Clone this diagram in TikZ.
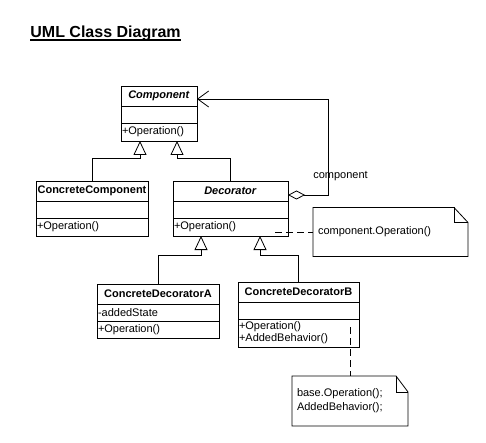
\documentclass[tikz,border=0pt]{standalone}
\usepackage{fontspec}
\setmainfont{Liberation Sans}
\usetikzlibrary{positioning,arrows.meta}

\tikzstyle{cN}=[draw,outer sep=0pt,inner xsep=1pt,inner ysep=0pt,minimum height=20pt,align=center,font=\fontsize{11}{12}\selectfont\bfseries]
\tikzstyle{cA}=[draw,outer sep=0pt,inner xsep=1pt,inner ysep=0pt,minimum height=17pt,align=left,font=\fontsize{11}{12}\selectfont]
\tikzstyle{cO}=[cA,minimum height=18pt]
\tikzstyle{nT}=[outer sep=0pt,inner xsep=5pt,inner ysep=0pt,align=left,font=\fontsize{11}{14}\selectfont]
\tikzstyle{eI}=[-{Triangle[open,length=14pt,width=13pt]}]
\tikzstyle{eA}=[{Diamond[open,length=17pt,width=9pt]}-{Straight Barb[length=11pt,width=16pt]}]
\tikzstyle{eD}=[dash pattern=on 7pt off 4pt]

\begin{document}
\begin{tikzpicture}[x=1pt,y=-1pt,line width=0.8pt]
    \useasboundingbox (0,0) rectangle (486,443);
    \draw (30,37.5) node[anchor=base west,inner sep=0pt,font=\fontsize{16}{18}\selectfont\bfseries] (title) {UML Class Diagram};
    \draw[line width=1.6pt] ([yshift=-2.5pt]title.base west) -- ([yshift=-2.5pt]title.base east);

    % classes
    \draw (121,86) node[cN,anchor=north west,text width=74pt] (compN) {\textit{Component}};
    \node[cA,text width=74pt,below=0pt of compN] (compA) {};
    \node[cO,text width=74pt,below=0pt of compA] (compO) {+Operation()};

    \draw (36,181) node[cN,anchor=north west,text width=110pt] (ccN) {ConcreteComponent};
    \node[cA,text width=110pt,below=0pt of ccN] (ccA) {};
    \node[cO,text width=110pt,below=0pt of ccA] (ccO) {+Operation()};

    \draw (173,181) node[cN,anchor=north west,text width=113pt] (decN) {\textit{Decorator}};
    \node[cA,text width=113pt,below=0pt of decN] (decA) {};
    \node[cO,text width=113pt,below=0pt of decA] (decO) {+Operation()};

    \draw (97,284) node[cN,anchor=north west,text width=120pt] (cdaN) {ConcreteDecoratorA};
    \node[cA,text width=120pt,below=0pt of cdaN] (cdaA) {-addedState};
    \node[cO,text width=120pt,minimum height=17pt,below=0pt of cdaA] (cdaO) {+Operation()};

    \draw (238,282) node[cN,anchor=north west,text width=119pt] (cdbN) {ConcreteDecoratorB};
    \node[cA,text width=119pt,below=0pt of cdbN] (cdbA) {};
    \node[cO,text width=119pt,minimum height=28pt,below=0pt of cdbA] (cdbO) {+Operation()\\+AddedBehavior()};

    % notes
    \node[nT,minimum height=49pt,text width=145pt] (note1) at (390.5,232) {component.Operation()};
    \draw (note1.north west) -- ([xshift=-14pt]note1.north east) -- ([yshift=-15pt]note1.north east) -- (note1.south east) -- (note1.south west) -- cycle;
    \draw ([xshift=-14pt]note1.north east) |- ([yshift=-15pt]note1.north east);

    \node[nT,minimum height=50pt,text width=106pt] (note2) at (350,401) {base.Operation();\\AddedBehavior();};
    \draw (note2.north west) -- ([xshift=-12pt]note2.north east) -- ([yshift=-16pt]note2.north east) -- (note2.south east) -- (note2.south west) -- cycle;
    \draw ([xshift=-12pt]note2.north east) |- ([yshift=-16pt]note2.north east);

    % connectors
    \draw[eI] (ccN.north) -- ++(0,-23) -| ([xshift=-19pt]compO.south);
    \draw[eI] (decN.north) -- ++(0,-23) -| ([xshift=18pt]compO.south);
    \draw[eI] (cdaN.north) -- ++(0,-29) -| ([xshift=-29.5pt]decO.south);
    \draw[eI] (cdbN.north) -- ++(0,-27) -| ([xshift=29.5pt]decO.south);
    \draw[eA] ([yshift=-4pt]decN.east) -- ++(40,0) |- ([yshift=-3pt]compN.east);
    \node[font=\fontsize{11}{12}\selectfont] (aggL) at (340.5,176) {component};

    \coordinate (decOp) at (275,232);
    \draw[eD] (decOp) -- (note1.west);
    \coordinate (cdbOp) at (350,327);
    \draw[eD] (cdbOp) -- (note2.north);
\end{tikzpicture}
\end{document}
